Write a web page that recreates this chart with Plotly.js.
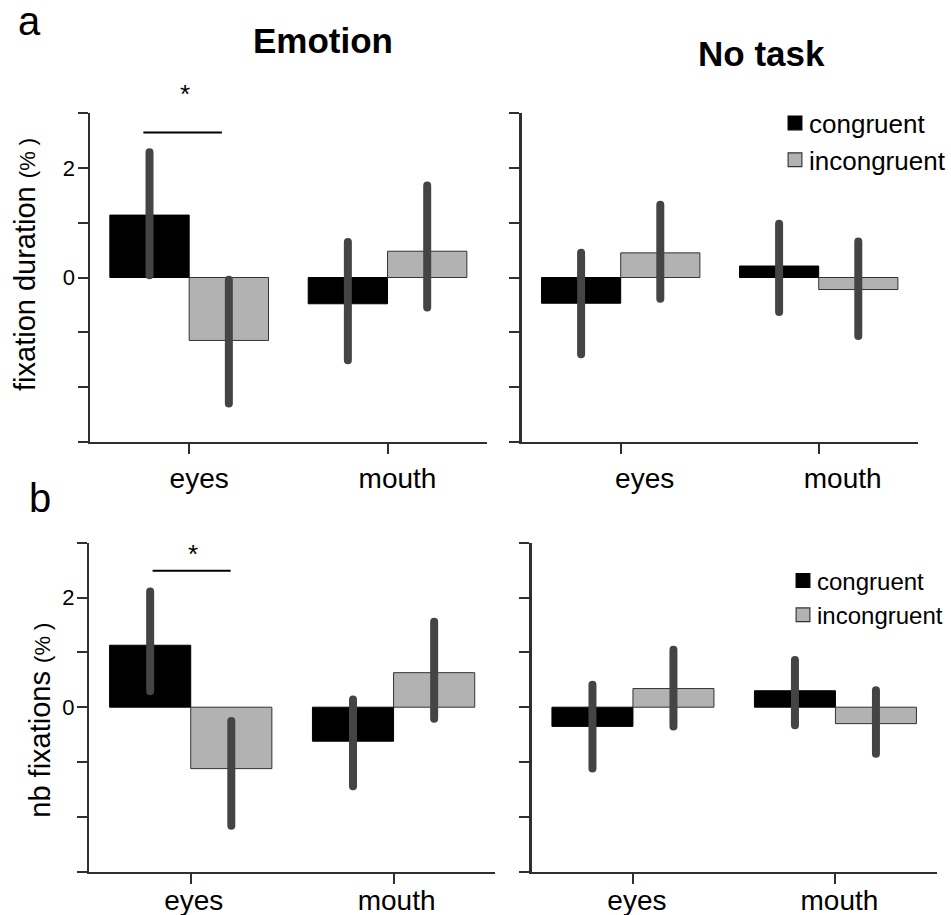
<!DOCTYPE html>
<html>
<head>
<meta charset="utf-8">
<script src="https://cdn.plot.ly/plotly-3.0.1.min.js"></script>
<style>
  html, body { margin: 0; padding: 0; background: #fff; }
  #chart { width: 951px; height: 915px; }
  path.yerror { stroke-linecap: round; }
  g.legendpoints path { transform: translate(26px, 0px) scale(1.15) !important; }
</style>
</head>
<body>
<div id="chart"></div>
<script>
// ---------- data ----------
const categories = ['eyes', 'mouth'];
const seriesNames = ['congruent', 'incongruent'];

// panel a, Emotion (fixation duration %)
const durEmotionCong = [1.14, -0.48];
const durEmotionCongUp = [1.15, 1.13];
const durEmotionCongDown = [1.10, 1.03];
const durEmotionIncong = [-1.15, 0.48];
const durEmotionIncongUp = [1.11, 1.20];
const durEmotionIncongDown = [1.15, 1.03];

// panel a, No task
const durNoTaskCong = [-0.47, 0.21];
const durNoTaskCongUp = [0.92, 0.77];
const durNoTaskCongDown = [0.93, 0.84];
const durNoTaskIncong = [0.45, -0.22];
const durNoTaskIncongUp = [0.88, 0.88];
const durNoTaskIncongDown = [0.84, 0.85];

// panel b, Emotion (nb fixations %)
const nbEmotionCong = [1.13, -0.62];
const nbEmotionCongUp = [0.98, 0.76];
const nbEmotionCongDown = [0.84, 0.82];
const nbEmotionIncong = [-1.12, 0.63];
const nbEmotionIncongUp = [0.87, 0.93];
const nbEmotionIncongDown = [1.04, 0.84];

// panel b, No task
const nbNoTaskCong = [-0.35, 0.30];
const nbNoTaskCongUp = [0.76, 0.56];
const nbNoTaskCongDown = [0.77, 0.63];
const nbNoTaskIncong = [0.34, -0.30];
const nbNoTaskIncongUp = [0.71, 0.61];
const nbNoTaskIncongDown = [0.69, 0.55];

// y ticks
const yTickVals = [-3, -2, -1, 0, 1, 2, 3];
const yTickText = ['', '', '', '0', '', '2', ''];
const yTickBlank = ['', '', '', '', '', '', ''];

// significance markers: [x0, x1, y]
const sigTop = [-0.231, 0.165, 2.65];
const sigBottom = [-0.188, 0.197, 2.49];

// ---------- styling ----------
const FONT = 'Liberation Sans, Arial, Helvetica, sans-serif';
const AXC = '#2f2f2f';
const congColor = '#000000';
const incongColor = '#b2b2b2';
const errColor = '#444444';

function barTrace(name, vals, up, down, ax, color, lineColor, legendId, show) {
  return {
    type: 'bar', name: name, x: categories, y: vals,
    xaxis: 'x' + ax, yaxis: 'y' + ax,
    marker: { color: color, line: { color: lineColor, width: 1 } },
    error_y: { type: 'data', symmetric: false, array: up, arrayminus: down,
               color: errColor, thickness: 8, width: 0 },
    legend: legendId, showlegend: show, hoverinfo: 'skip'
  };
}

const data = [
  barTrace(seriesNames[0], durEmotionCong, durEmotionCongUp, durEmotionCongDown, '', congColor, '#000', 'legend', false),
  barTrace(seriesNames[1], durEmotionIncong, durEmotionIncongUp, durEmotionIncongDown, '', incongColor, '#333', 'legend', false),
  barTrace(seriesNames[0], durNoTaskCong, durNoTaskCongUp, durNoTaskCongDown, '2', congColor, '#000', 'legend', true),
  barTrace(seriesNames[1], durNoTaskIncong, durNoTaskIncongUp, durNoTaskIncongDown, '2', incongColor, '#333', 'legend', true),
  barTrace(seriesNames[0], nbEmotionCong, nbEmotionCongUp, nbEmotionCongDown, '3', congColor, '#000', 'legend2', false),
  barTrace(seriesNames[1], nbEmotionIncong, nbEmotionIncongUp, nbEmotionIncongDown, '3', incongColor, '#333', 'legend2', false),
  barTrace(seriesNames[0], nbNoTaskCong, nbNoTaskCongUp, nbNoTaskCongDown, '4', congColor, '#000', 'legend2', true),
  barTrace(seriesNames[1], nbNoTaskIncong, nbNoTaskIncongUp, nbNoTaskIncongDown, '4', incongColor, '#333', 'legend2', true)
];

const W = 951, H = 915;
function px2x(p) { return p / W; }
function py2y(p) { return 1 - p / H; }

function xAxis(domain, anchor, shift, standoff) {
  return {
    domain: domain, anchor: anchor, type: 'category', range: [-0.5, 1.5],
    showline: true, linecolor: AXC, linewidth: 2.5,
    ticks: 'outside', ticklen: 10, tickwidth: 2, tickcolor: AXC,
    showgrid: false, zeroline: false, fixedrange: true,
    tickfont: { family: FONT, size: 28, color: '#000' },
    ticklabelshift: shift, ticklabelstandoff: standoff
  };
}
function yAxis(domain, anchor, text) {
  return {
    domain: domain, anchor: anchor, range: [-3, 3],
    tickmode: 'array', tickvals: yTickVals, ticktext: text,
    showline: true, linecolor: AXC, linewidth: 2.5,
    ticks: 'outside', ticklen: 10, tickwidth: 2, tickcolor: AXC,
    showgrid: false, zeroline: false, fixedrange: true,
    tickfont: { family: FONT, size: 22, color: '#000' },
    ticklabelstandoff: -2
  };
}

const topDom = [py2y(441.7), py2y(113.3)];
const botDom = [py2y(871.7), py2y(542.7)];

const layout = {
  width: W, height: H,
  margin: { l: 0, r: 0, t: 0, b: 0 },
  paper_bgcolor: '#fff', plot_bgcolor: 'rgba(0,0,0,0)',
  barmode: 'group', bargap: 0.2, bargroupgap: 0,
  font: { family: FONT, color: '#000' },
  xaxis:  xAxis([px2x(90), px2x(486.7)], 'y', 10, 0),
  yaxis:  yAxis(topDom, 'x', yTickText),
  xaxis2: xAxis([px2x(521.7), px2x(917.7)], 'y2', 24, 0),
  yaxis2: yAxis(topDom, 'x2', yTickBlank),
  xaxis3: xAxis([px2x(89.3), px2x(495)], 'y3', 3, -8),
  yaxis3: yAxis(botDom, 'x3', yTickText),
  xaxis4: xAxis([px2x(531.7), px2x(936.7)], 'y4', 4, -8),
  yaxis4: yAxis(botDom, 'x4', yTickBlank),
  legend: {
    x: 1, y: py2y(99.5), xanchor: 'right', yanchor: 'top',
    font: { family: FONT, size: 26, color: '#000' },
    bgcolor: 'rgba(0,0,0,0)', borderwidth: 0, tracegroupgap: 0
  },
  legend2: {
    x: px2x(777), y: py2y(558.5), xanchor: 'left', yanchor: 'top',
    font: { family: FONT, size: 24, color: '#000' },
    bgcolor: 'rgba(0,0,0,0)', borderwidth: 0, tracegroupgap: 0
  },
  shapes: [
    { type: 'line', xref: 'x', yref: 'y', x0: sigTop[0], x1: sigTop[1], y0: sigTop[2], y1: sigTop[2],
      line: { color: '#000', width: 2 } },
    { type: 'line', xref: 'x3', yref: 'y3', x0: sigBottom[0], x1: sigBottom[1], y0: sigBottom[2], y1: sigBottom[2],
      line: { color: '#000', width: 2 } }
  ],
  annotations: [
    { text: 'a', xref: 'paper', yref: 'paper', x: px2x(16), y: py2y(21), xanchor: 'left', yanchor: 'middle',
      showarrow: false, font: { family: FONT, size: 40 } },
    { text: 'b', xref: 'paper', yref: 'paper', x: px2x(27), y: py2y(497.7), xanchor: 'left', yanchor: 'middle',
      showarrow: false, font: { family: FONT, size: 40 } },
    { text: '<b>Emotion</b>', xref: 'paper', yref: 'paper', x: px2x(323), y: py2y(41), xanchor: 'center', yanchor: 'middle',
      showarrow: false, font: { family: FONT, size: 35 } },
    { text: '<b>No task</b>', xref: 'paper', yref: 'paper', x: px2x(761.7), y: py2y(53.7), xanchor: 'center', yanchor: 'middle',
      showarrow: false, font: { family: FONT, size: 35 } },
    { text: 'fixation duration <span style="font-size:22px">(% )</span>', xref: 'paper', yref: 'paper',
      x: px2x(25), y: py2y(265), xanchor: 'center', yanchor: 'middle', textangle: -90,
      showarrow: false, font: { family: FONT, size: 29 } },
    { text: 'nb fixations <span style="font-size:22px">(% )</span>', xref: 'paper', yref: 'paper',
      x: px2x(40), y: py2y(720.7), xanchor: 'center', yanchor: 'middle', textangle: -90,
      showarrow: false, font: { family: FONT, size: 29 } },
    { text: '*', xref: 'x', yref: 'paper', x: -0.02, y: py2y(94), xanchor: 'center', yanchor: 'middle',
      showarrow: false, font: { family: FONT, size: 26 } },
    { text: '*', xref: 'x3', yref: 'paper', x: 0.012, y: py2y(554), xanchor: 'center', yanchor: 'middle',
      showarrow: false, font: { family: FONT, size: 26 } }
  ]
};

Plotly.newPlot('chart', data, layout, { displayModeBar: false, staticPlot: true });
</script>
</body>
</html>
